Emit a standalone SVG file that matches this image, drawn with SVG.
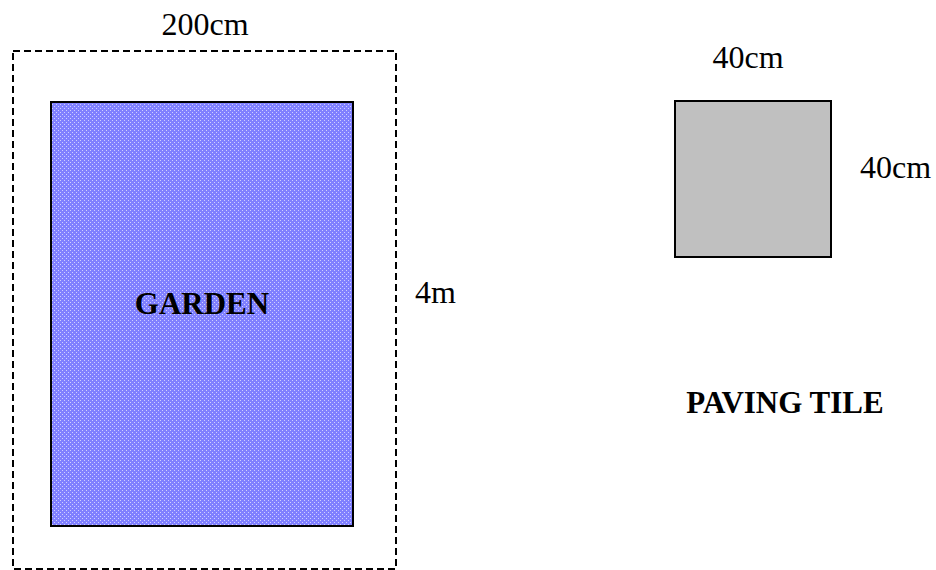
<svg xmlns="http://www.w3.org/2000/svg" width="936" height="570" viewBox="0 0 936 570">
<style>
.t{font-family:"Liberation Serif","Times New Roman",serif;font-size:32px;fill:#000}
.b{font-weight:bold;font-size:31px}
.dash{fill:none;stroke:#000;stroke-width:2;stroke-dasharray:7 4}
</style>
<defs>
<pattern id="dots" width="4" height="4" patternUnits="userSpaceOnUse">
<rect width="4" height="4" fill="#8080FF"/>
<rect x="0" y="0" width="1" height="1" fill="#D0D0FF"/>
<rect x="2" y="2" width="1" height="1" fill="#D0D0FF"/>
</pattern>
</defs>
<rect width="936" height="570" fill="#fff"/>
<g id="boundary">
<rect class="dash" x="13" y="51" width="383" height="518"/>
<text class="t" x="205" y="35" text-anchor="middle">200cm</text>
<text class="t" x="415" y="303">4m</text>
</g>
<g id="garden">
<rect x="51" y="102" width="302" height="424" fill="url(#dots)" stroke="#000" stroke-width="2"/>
<text class="t b" x="202" y="314" text-anchor="middle">GARDEN</text>
</g>
<g id="tile">
<rect x="675" y="101" width="156" height="156" fill="#C0C0C0" stroke="#000" stroke-width="2"/>
<text class="t" x="748" y="68" text-anchor="middle">40cm</text>
<text class="t" x="860" y="178">40cm</text>
<text class="t b" x="785" y="413" text-anchor="middle">PAVING TILE</text>
</g>
<g id="connectors"/>
</svg>
